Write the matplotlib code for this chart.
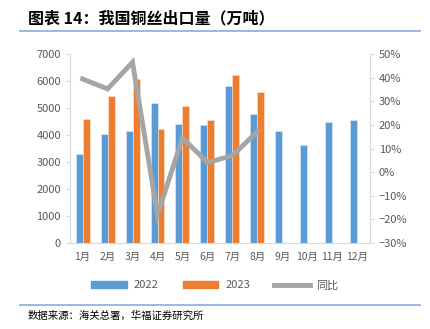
import matplotlib
matplotlib.use("Agg")
import matplotlib.pyplot as plt
import numpy as np
from matplotlib.lines import Line2D
from matplotlib.patches import Patch

plt.rcParams['font.family'] = ['Noto Sans CJK SC', 'DejaVu Sans']

# 月度铜丝出口量（万吨）及同比
months = ["1月", "2月", "3月", "4月", "5月", "6月", "7月", "8月", "9月", "10月", "11月", "12月"]
exp_2022 = [3300, 4030, 4150, 5170, 4420, 4380, 5820, 4780, 4160, 3620, 4480, 4550]
exp_2023 = [4600, 5450, 6080, 4240, 5060, 4560, 6230, 5600]
yoy = [39.4, 35.2, 46.5, -18.0, 14.5, 4.1, 7.0, 17.2]

blue = "#5B9BD5"
orange = "#ED7D31"
grey = "#A5A5A5"
txt = "#595959"
axis_c = "#D9D9D9"

fig = plt.figure(figsize=(4.3, 3.29), dpi=100)
ax = fig.add_axes([0.163, 0.261, 0.697, 0.575])
ax2 = ax.twinx()

x = np.arange(len(months))
w = 0.28
ax.bar(x[:len(exp_2022)] - w / 2, exp_2022, w, color=blue, edgecolor="#DEEBF7", linewidth=0.4, zorder=2)
ax.bar(x[:len(exp_2023)] + w / 2, exp_2023, w, color=orange, edgecolor="#FBE5D6", linewidth=0.4, zorder=2)
ax2.plot(x[:len(yoy)], yoy, color=grey, linewidth=3.5, solid_joinstyle="miter", zorder=3)

ax.set_xlim(-0.5, len(months) - 0.5)
ax.set_ylim(0, 7000)
ax.set_yticks(range(0, 7001, 1000))
ax.set_xticks(x)
ax.set_xticklabels(months)
ax2.set_ylim(-30, 50)
ax2.set_yticks(range(-30, 51, 10))
ax2.set_yticklabels([f"{v}%".replace("-", "\u2212") for v in range(-30, 51, 10)])

for a in (ax, ax2):
    for s in a.spines.values():
        s.set_visible(False)
    a.tick_params(labelsize=8, colors=txt, length=3, width=0.8)
ax.tick_params(axis="y", color=axis_c)
ax2.tick_params(axis="y", color=axis_c)
ax.tick_params(axis="x", length=0, pad=6, labelsize=7.5)
ax.spines["left"].set_visible(True)
ax.spines["left"].set_color(axis_c)
ax.spines["bottom"].set_visible(True)
ax.spines["bottom"].set_color(axis_c)
ax2.spines["right"].set_visible(True)
ax2.spines["right"].set_color(axis_c)
ax2.spines["right"].set_linewidth(0.8)
ax.spines["left"].set_linewidth(0.8)
ax.spines["bottom"].set_linewidth(0.8)

handles = [Patch(color=blue, label="2022"), Patch(color=orange, label="2023"),
           Line2D([], [], color=grey, linewidth=3.5, label="同比")]
leg = fig.legend(handles=handles, loc="center", bbox_to_anchor=(0.5, 0.133), ncol=3,
                 frameon=False, fontsize=8, handlelength=3.2, handleheight=0.55,
                 columnspacing=2.2, handletextpad=0.6)
for t in leg.get_texts():
    t.set_color(txt)

# 标题与来源
fig.text(0.065, 0.945, "图表 14：我国铜丝出口量（万吨）", fontsize=11.5, fontweight="bold",
         color="black", va="center")
fig.add_artist(Line2D([0.046, 0.977], [0.905, 0.905], color="#8EA9DB", linewidth=1.2))
fig.add_artist(Line2D([0.046, 0.977], [0.073, 0.073], color="#8EA9DB", linewidth=1.2))
fig.text(0.065, 0.04, "数据来源：海关总署，华福证券研究所", fontsize=7.5, color="black", va="center")

fig.savefig("out.png", dpi=100)
